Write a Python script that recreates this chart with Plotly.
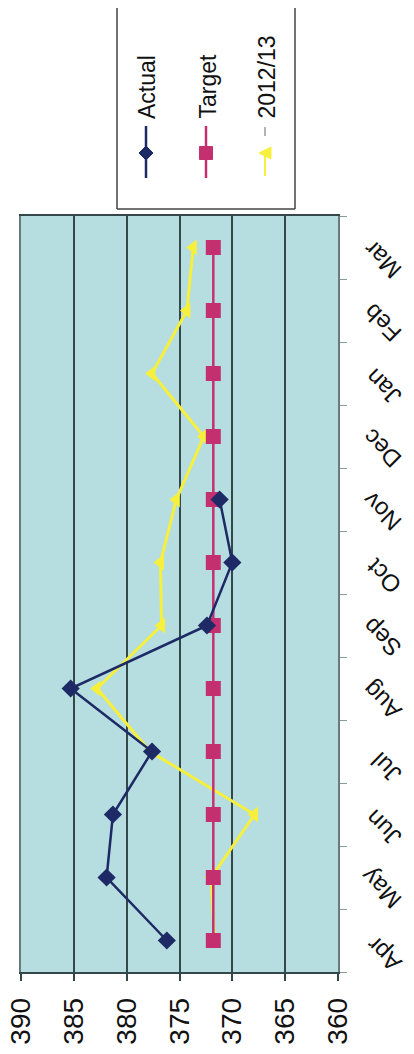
import plotly.graph_objects as go

months = ["Apr", "May", "Jun", "Jul", "Aug", "Sep", "Oct", "Nov", "Dec", "Jan", "Feb", "Mar"]
actual = [376.2, 381.9, 381.3, 377.6, 385.3, 372.4, 370.0, 371.2]
target = [371.8] * 12
prev_year = [371.7, 372.0, 367.9, 377.8, 382.8, 376.7, 376.8, 375.3, 372.7, 377.6, 374.3, 373.7]
value_ticks = [390, 385, 380, 375, 370, 365, 360]

NAVY = "#1d2a66"
PINK = "#c4306f"
YELLOW = "#f6ef3c"
FONT = "Arial, Liberation Sans, sans-serif"

OFF = 8  # default page margin of the html body
W, H = 406, 1046
L, T = 21 - OFF, 216 - OFF
R = W - (338 - OFF)
B = H - (972 - OFF)
PW, PH = W - L - R, H - T - B


def px(x):
    return (x - OFF - L) / PW


def py(y):
    return (H - B - (y - OFF)) / PH


fig = go.Figure()
fig.add_trace(go.Scatter(
    x=prev_year, y=months, mode="lines+markers", name="2012/13",
    line=dict(color=YELLOW, width=3),
    marker=dict(symbol="triangle-left", size=14, color=YELLOW),
    showlegend=False))
fig.add_trace(go.Scatter(
    x=target, y=months, mode="lines+markers", name="Target",
    line=dict(color=PINK, width=2.5),
    marker=dict(symbol="square", size=15, color=PINK),
    showlegend=False))
fig.add_trace(go.Scatter(
    x=actual, y=months[:len(actual)], mode="lines+markers", name="Actual",
    line=dict(color=NAVY, width=2.5),
    marker=dict(symbol="diamond", size=14, color=NAVY),
    showlegend=False))

shapes = []
annotations = []
# legend box (drawn rotated like the reference; its top runs off the page)
BOX_L, BOX_R, BOX_B, BOX_T = 117, 295, 209, -10
shapes.append(dict(type="rect", xref="paper", yref="paper",
                   x0=px(BOX_L), x1=px(BOX_R), y0=py(BOX_B), y1=py(BOX_T),
                   line=dict(width=0), fillcolor="white", layer="above"))
for (xa, ya, xb, yb) in [(BOX_L, BOX_T, BOX_L, BOX_B), (BOX_L, BOX_B, BOX_R, BOX_B),
                         (BOX_R, BOX_B, BOX_R, BOX_T)]:
    shapes.append(dict(type="line", xref="paper", yref="paper",
                       x0=px(xa), y0=py(ya), x1=px(xb), y1=py(yb),
                       line=dict(color="#444444", width=1.5), layer="above"))

legend_items = [
    ("Actual", NAVY, 146, "diamond"),
    ("Target", PINK, 206, "square"),
    ("2012/13", YELLOW, 265, "triangle"),
]
for name, col, cx, sym in legend_items:
    if sym == "triangle":
        shapes.append(dict(type="line", xref="paper", yref="paper",
                           x0=px(cx), x1=px(cx), y0=py(127), y1=py(142),
                           line=dict(color="#9a9a9a", width=1.5, dash="dash"), layer="above"))
        shapes.append(dict(type="line", xref="paper", yref="paper",
                           x0=px(cx), x1=px(cx), y0=py(150), y1=py(176),
                           line=dict(color=col, width=2), layer="above"))
    else:
        shapes.append(dict(type="line", xref="paper", yref="paper",
                           x0=px(cx), x1=px(cx), y0=py(126), y1=py(178),
                           line=dict(color=col, width=2.5), layer="above"))
    cy = 153
    if sym == "diamond":
        s = 7
        path = (f"M {px(cx)},{py(cy - s)} L {px(cx + s)},{py(cy)} "
                f"L {px(cx)},{py(cy + s)} L {px(cx - s)},{py(cy)} Z")
    elif sym == "square":
        s = 6.5
        path = (f"M {px(cx - s)},{py(cy - s)} L {px(cx + s)},{py(cy - s)} "
                f"L {px(cx + s)},{py(cy + s)} L {px(cx - s)},{py(cy + s)} Z")
    else:
        s = 6
        path = (f"M {px(cx - s)},{py(cy)} L {px(cx + s)},{py(cy - s)} "
                f"L {px(cx + s)},{py(cy + s)} Z")
    shapes.append(dict(type="path", xref="paper", yref="paper", path=path,
                       fillcolor=col, line=dict(color=col, width=1), layer="above"))
    annotations.append(dict(xref="paper", yref="paper", x=px(cx + 1), y=py(121),
                            xanchor="center", yanchor="bottom", showarrow=False,
                            text=name, textangle=-90,
                            font=dict(family=FONT, size=23, color="#111111")))

fig.update_layout(
    width=W, height=H,
    margin=dict(l=L, r=R, t=T, b=B, autoexpand=False),
    paper_bgcolor="white",
    plot_bgcolor="#b6dde0",
    shapes=shapes,
    annotations=annotations,
    showlegend=False,
    xaxis=dict(
        range=[390, 360], tickvals=value_ticks, ticktext=[str(v) for v in value_ticks],
        tickangle=-90, tickfont=dict(family=FONT, size=28, color="#111111"),
        showgrid=True, gridcolor="#34484a", gridwidth=1.5,
        showline=True, linecolor="#34484a", linewidth=1.5, mirror=True,
        ticks="outside", ticklen=7, tickcolor="#34484a", tickwidth=1.5,
        ticklabelstandoff=6, ticklabeloverflow="allow",
        zeroline=False, fixedrange=True,
    ),
    yaxis=dict(
        type="category", categoryorder="array", categoryarray=months,
        range=[-0.5, 11.5], side="right",
        tickangle=-135, tickfont=dict(family=FONT, size=24, color="#111111"),
        showgrid=False, showline=True, linecolor="#6a7a7c", linewidth=1.5, mirror=True,
        ticks="outside", tickson="boundaries", ticklen=7, tickcolor="#8a9a9c",
        ticklabelstandoff=50, ticklabelshift=33, ticklabeloverflow="allow",
        fixedrange=True,
    ),
)

fig.write_html("out.html")
